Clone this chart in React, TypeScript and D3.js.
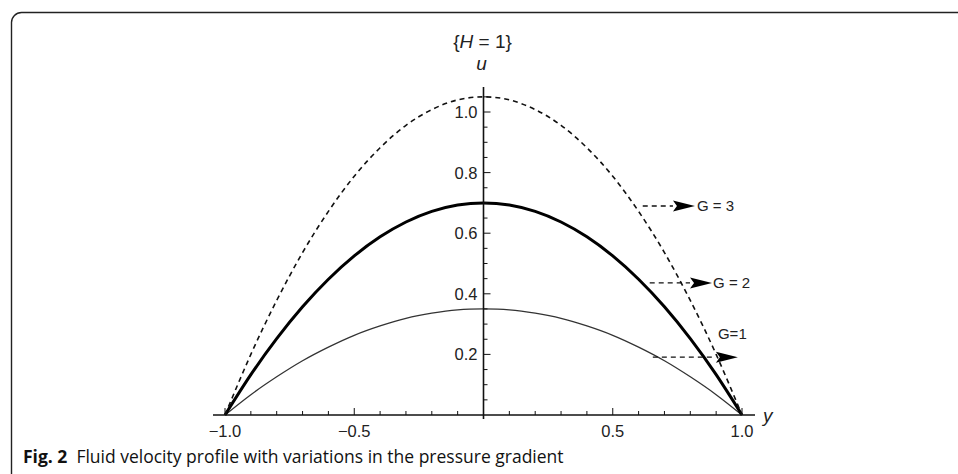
import * as d3 from "d3";

// sample points along the channel (y) and the read-off velocity u for each G
const yPoints = [-1, -0.9, -0.8, -0.7, -0.6, -0.5, -0.4, -0.3, -0.2, -0.1, 0, 0.1, 0.2, 0.3, 0.4, 0.5, 0.6, 0.7, 0.8, 0.9, 1];
const uG1 = [0, 0.067, 0.126, 0.179, 0.224, 0.263, 0.294, 0.319, 0.336, 0.347, 0.35, 0.347, 0.336, 0.319, 0.294, 0.263, 0.224, 0.179, 0.126, 0.067, 0];
const uG2 = [0, 0.133, 0.252, 0.357, 0.448, 0.525, 0.588, 0.637, 0.672, 0.693, 0.7, 0.693, 0.672, 0.637, 0.588, 0.525, 0.448, 0.357, 0.252, 0.133, 0];
const uG3 = [0, 0.2, 0.378, 0.536, 0.672, 0.788, 0.882, 0.956, 1.008, 1.04, 1.05, 1.04, 1.008, 0.956, 0.882, 0.788, 0.672, 0.536, 0.378, 0.2, 0];

const xTickLabels = [-1.0, -0.5, 0.5, 1.0];
const yTickLabels = [0.2, 0.4, 0.6, 0.8, 1.0];

// annotation arrows: label, arrow start (y), arrow tip (y), height (u)
const arrowLabels = ["G = 3", "G = 2", "G=1"];
const arrowStart = [0.616, 0.643, 0.655];
const arrowTip = [0.818, 0.884, 0.984];
const arrowU = [0.69, 0.436, 0.191];
const labelX = [0.826, 0.888, 0.907];
const labelU = [0.69, 0.436, 0.27];

const W = 958;
const H = 474;
const tickFont = "'Liberation Sans', Arial, sans-serif";

export default function App() {
  const x = d3.scaleLinear().domain([-1, 1]).range([225, 742]);
  const y = d3.scaleLinear().domain([0, 1]).range([415, 112]);

  const line = d3
    .line<number>()
    .x((_, i) => x(yPoints[i]))
    .y((d) => y(d))
    .curve(d3.curveNatural);

  const xMinor = d3.range(-10, 11).map((k) => k / 10).filter((v) => v !== 0);
  const yMinor = d3.range(1, 22).map((k) => k / 20);

  return (
    <svg width={W} height={H} style={{ position: "absolute", left: 0, top: 0, background: "#fff" }}>
      <rect x={11.5} y={12.5} width={W + 40} height={H + 40} rx={10} fill="none" stroke="#222" strokeWidth={1.4} />

      {/* curves */}
      <path d={line(uG1) ?? ""} fill="none" stroke="#333" strokeWidth={1.3} />
      <path d={line(uG2) ?? ""} fill="none" stroke="#000" strokeWidth={3} />
      <path d={line(uG3) ?? ""} fill="none" stroke="#111" strokeWidth={1.6} strokeDasharray="5 4" />

      {/* x axis */}
      <line x1={213} x2={755} y1={y(0)} y2={y(0)} stroke="#111" strokeWidth={1.6} />
      {xMinor.map((v) => {
        const major = Math.abs(v * 2 - Math.round(v * 2)) < 1e-6;
        return (
          <line key={`xt${v}`} x1={x(v)} x2={x(v)} y1={y(0)} y2={y(0) - (major ? 7 : 4)} stroke="#111" strokeWidth={1} />
        );
      })}
      {xTickLabels.map((v) => (
        <text key={`xl${v}`} x={x(v)} y={y(0) + 22} textAnchor="middle" fontFamily={tickFont} fontSize={16.5} fill="#222">
          {v < 0 ? `\u2212${Math.abs(v).toFixed(1)}` : v.toFixed(1)}
        </text>
      ))}
      <text x={763} y={y(0) + 7} fontFamily={tickFont} fontSize={19} fontStyle="italic" fill="#222">y</text>

      {/* y axis */}
      <line x1={x(0)} x2={x(0)} y1={y(0) + 4} y2={87} stroke="#111" strokeWidth={1.6} />
      {yMinor.map((v) => {
        const major = Math.abs(v * 5 - Math.round(v * 5)) < 1e-6;
        return (
          <line key={`yt${v}`} x1={x(0)} x2={x(0) + (major ? 7 : 4)} y1={y(v)} y2={y(v)} stroke="#111" strokeWidth={1} />
        );
      })}
      {yTickLabels.map((v) => (
        <text key={`yl${v}`} x={x(0) - 6} y={y(v) + 6} textAnchor="end" fontFamily={tickFont} fontSize={16.5} fill="#222">
          {v.toFixed(1)}
        </text>
      ))}
      <text x={x(0) - 2} y={70} textAnchor="middle" fontFamily={tickFont} fontSize={19} fontStyle="italic" fill="#222">u</text>
      <text x={x(0) - 1} y={48} textAnchor="middle" fontFamily={tickFont} fontSize={19} fill="#222">
        {"{"}<tspan fontStyle="italic">H</tspan>{" = 1}"}
      </text>

      {/* annotations */}
      {arrowLabels.map((lab, i) => {
        const x0 = x(arrowStart[i]);
        const x1 = x(arrowTip[i]);
        const yy = y(arrowU[i]);
        const head = 22;
        return (
          <g key={lab}>
            <line x1={x0} x2={x1 - head} y1={yy} y2={yy} stroke="#111" strokeWidth={1.4} strokeDasharray="5 4" />
            <path d={`M${x1},${yy}L${x1 - head},${yy - 5.5}L${x1 - head + 4},${yy}L${x1 - head},${yy + 5.5}Z`} fill="#000" />
            <text x={x(labelX[i])} y={y(labelU[i]) + 5.5} fontFamily={tickFont} fontSize={15} fill="#222">{lab}</text>
          </g>
        );
      })}

      {/* caption */}
      <text x={23} y={463} fontFamily="'Open Sans', sans-serif" fontSize={17.5} fill="#111">
        <tspan fontWeight="bold">Fig. 2</tspan>
        <tspan dx={9}>Fluid velocity profile with variations in the pressure gradient</tspan>
      </text>
    </svg>
  );
}
